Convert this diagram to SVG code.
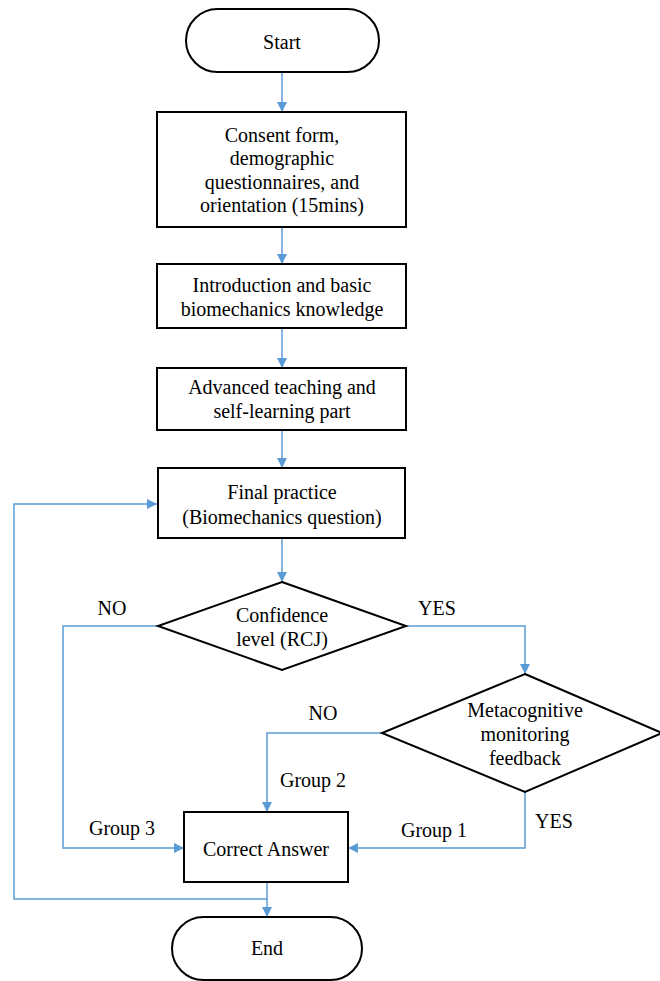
<svg xmlns="http://www.w3.org/2000/svg" width="660" height="981" viewBox="0 0 660 981">
  <style>
    .box { fill: #ffffff; stroke: #000000; stroke-width: 2; }
    text { font-size: 20px; fill: #000000; text-anchor: middle; }
    .conn { fill: none; stroke: #5B9BD5; stroke-width: 1.5; marker-end: url(#arrow); }
  </style>
  <defs>
    <marker id="arrow" viewBox="0 0 10 10" refX="10" refY="5" markerWidth="10" markerHeight="10" markerUnits="userSpaceOnUse" orient="auto">
      <path d="M0,0 L10,5 L0,10 Z" fill="#5B9BD5"/>
    </marker>
  </defs>
  <rect width="660" height="981" fill="#ffffff"/>

  <!-- connectors -->
  <g id="connectors">
    <path class="conn" d="M282,72 L282,112"/>
    <path class="conn" d="M282,227 L282,264"/>
    <path class="conn" d="M282,328 L282,368"/>
    <path class="conn" d="M282,430 L282,468"/>
    <path class="conn" d="M282,538 L282,582"/>
    <path class="conn" d="M158,626 L63,626 L63,848 L184,848"/>
    <path class="conn" d="M406,626 L525,626 L525,674"/>
    <path class="conn" d="M382,733 L267,733 L267,812"/>
    <path class="conn" d="M525,792 L525,848 L348,848"/>
    <path class="conn" d="M267,882 L267,917"/>
    <path class="conn" d="M267,899 L14,899 L14,504 L157,504"/>
  </g>

  <g font-family="Liberation Serif, Times New Roman, serif">
  <!-- nodes -->
  <g id="start">
    <rect class="box" x="186" y="9" width="193" height="63" rx="31.5" ry="31.5"/>
    <text x="282" y="48.5">Start</text>
  </g>

  <g id="consent">
    <rect class="box" x="157" y="112" width="249" height="115"/>
    <text x="282" y="141.5">Consent form,</text>
    <text x="282" y="165">demographic</text>
    <text x="282" y="188.5">questionnaires, and</text>
    <text x="282" y="212">orientation (15mins)</text>
  </g>

  <g id="introduction">
    <rect class="box" x="157" y="264" width="249" height="64"/>
    <text x="282" y="291.5">Introduction and basic</text>
    <text x="282" y="315.5">biomechanics knowledge</text>
  </g>

  <g id="advanced">
    <rect class="box" x="157" y="368" width="249" height="62"/>
    <text x="282" y="393.5">Advanced teaching and</text>
    <text x="282" y="418">self-learning part</text>
  </g>

  <g id="final-practice">
    <rect class="box" x="158" y="468" width="247" height="70"/>
    <text x="282" y="498.5">Final practice</text>
    <text x="282" y="523.5">(Biomechanics question)</text>
  </g>

  <g id="confidence">
    <polygon class="box" points="282,582 406,626 282,670 158,626"/>
    <text x="282" y="621.5">Confidence</text>
    <text x="282" y="645.5">level (RCJ)</text>
  </g>

  <g id="metacognitive">
    <polygon class="box" points="525,674 662,733 525,792 382,733"/>
    <text x="525" y="716.5">Metacognitive</text>
    <text x="525" y="741">monitoring</text>
    <text x="525" y="764.5">feedback</text>
  </g>

  <g id="correct-answer">
    <rect class="box" x="184" y="812" width="164" height="70"/>
    <text x="266" y="855.5">Correct Answer</text>
  </g>

  <g id="end">
    <rect class="box" x="172" y="917" width="190" height="63" rx="31.5" ry="31.5"/>
    <text x="267" y="954.5">End</text>
  </g>

  <!-- branch labels -->
  <g id="labels">
    <text x="112" y="614.5">NO</text>
    <text x="437" y="614.5">YES</text>
    <text x="323" y="719.5">NO</text>
    <text x="313" y="786.5">Group 2</text>
    <text x="122" y="834.5">Group 3</text>
    <text x="434" y="836.5">Group 1</text>
    <text x="554" y="827.5">YES</text>
  </g>
  </g>
</svg>
